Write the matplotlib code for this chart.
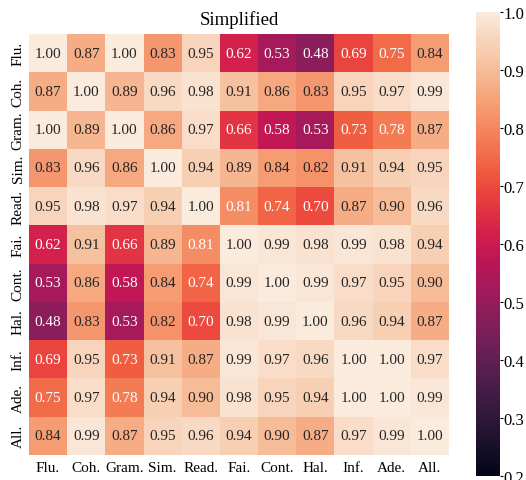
import numpy as np
import matplotlib
matplotlib.use("Agg")
import matplotlib.pyplot as plt
import seaborn as sns

plt.rcParams['font.family'] = ['Liberation Serif', 'DejaVu Serif']

# Metric labels
labels = ["Flu.", "Coh.", "Gram.", "Sim.", "Read.", "Fai.", "Cont.", "Hal.", "Inf.", "Ade.", "All."]

# Correlation matrix, read row by row
flu = [1.00, 0.87, 1.00, 0.83, 0.95, 0.62, 0.53, 0.48, 0.69, 0.75, 0.84]
coh = [0.87, 1.00, 0.89, 0.96, 0.98, 0.91, 0.86, 0.83, 0.95, 0.97, 0.99]
gram = [1.00, 0.89, 1.00, 0.86, 0.97, 0.66, 0.58, 0.53, 0.73, 0.78, 0.87]
sim = [0.83, 0.96, 0.86, 1.00, 0.94, 0.89, 0.84, 0.82, 0.91, 0.94, 0.95]
read = [0.95, 0.98, 0.97, 0.94, 1.00, 0.81, 0.74, 0.70, 0.87, 0.90, 0.96]
fai = [0.62, 0.91, 0.66, 0.89, 0.81, 1.00, 0.99, 0.98, 0.99, 0.98, 0.94]
cont = [0.53, 0.86, 0.58, 0.84, 0.74, 0.99, 1.00, 0.99, 0.97, 0.95, 0.90]
hal = [0.48, 0.83, 0.53, 0.82, 0.70, 0.98, 0.99, 1.00, 0.96, 0.94, 0.87]
inf = [0.69, 0.95, 0.73, 0.91, 0.87, 0.99, 0.97, 0.96, 1.00, 1.00, 0.97]
ade = [0.75, 0.97, 0.78, 0.94, 0.90, 0.98, 0.95, 0.94, 1.00, 1.00, 0.99]
all_ = [0.84, 0.99, 0.87, 0.95, 0.96, 0.94, 0.90, 0.87, 0.97, 0.99, 1.00]

matrix = np.array([flu, coh, gram, sim, read, fai, cont, hal, inf, ade, all_])

fig = plt.figure(figsize=(5.26, 4.81), dpi=100)
ax = fig.add_axes([29 / 526, 25 / 481, 420 / 526, 421 / 481])
cax = fig.add_axes([476 / 526, 4 / 481, 24 / 526, 464 / 481])

serif = ['Liberation Serif', 'DejaVu Serif']
sns.heatmap(matrix, ax=ax, cbar_ax=cax, cmap="rocket", vmin=0.2, vmax=1.0,
            annot=True, fmt=".2f", annot_kws={"size": 11, "family": serif},
            xticklabels=labels, yticklabels=labels)

ax.set_title("Simplified", fontsize=13.5, pad=7)
ax.tick_params(axis='both', length=0, labelsize=11)
ax.tick_params(axis='x', pad=4)
ax.tick_params(axis='y', pad=3)
plt.setp(ax.get_yticklabels(), rotation=90, va='center')
plt.setp(ax.get_xticklabels(), rotation=0)

cax.tick_params(labelsize=12, length=2, width=0.8, pad=0.5)
cax.set_yticks([0.2, 0.3, 0.4, 0.5, 0.6, 0.7, 0.8, 0.9, 1.0])

fig.savefig("out.png", dpi=100)
